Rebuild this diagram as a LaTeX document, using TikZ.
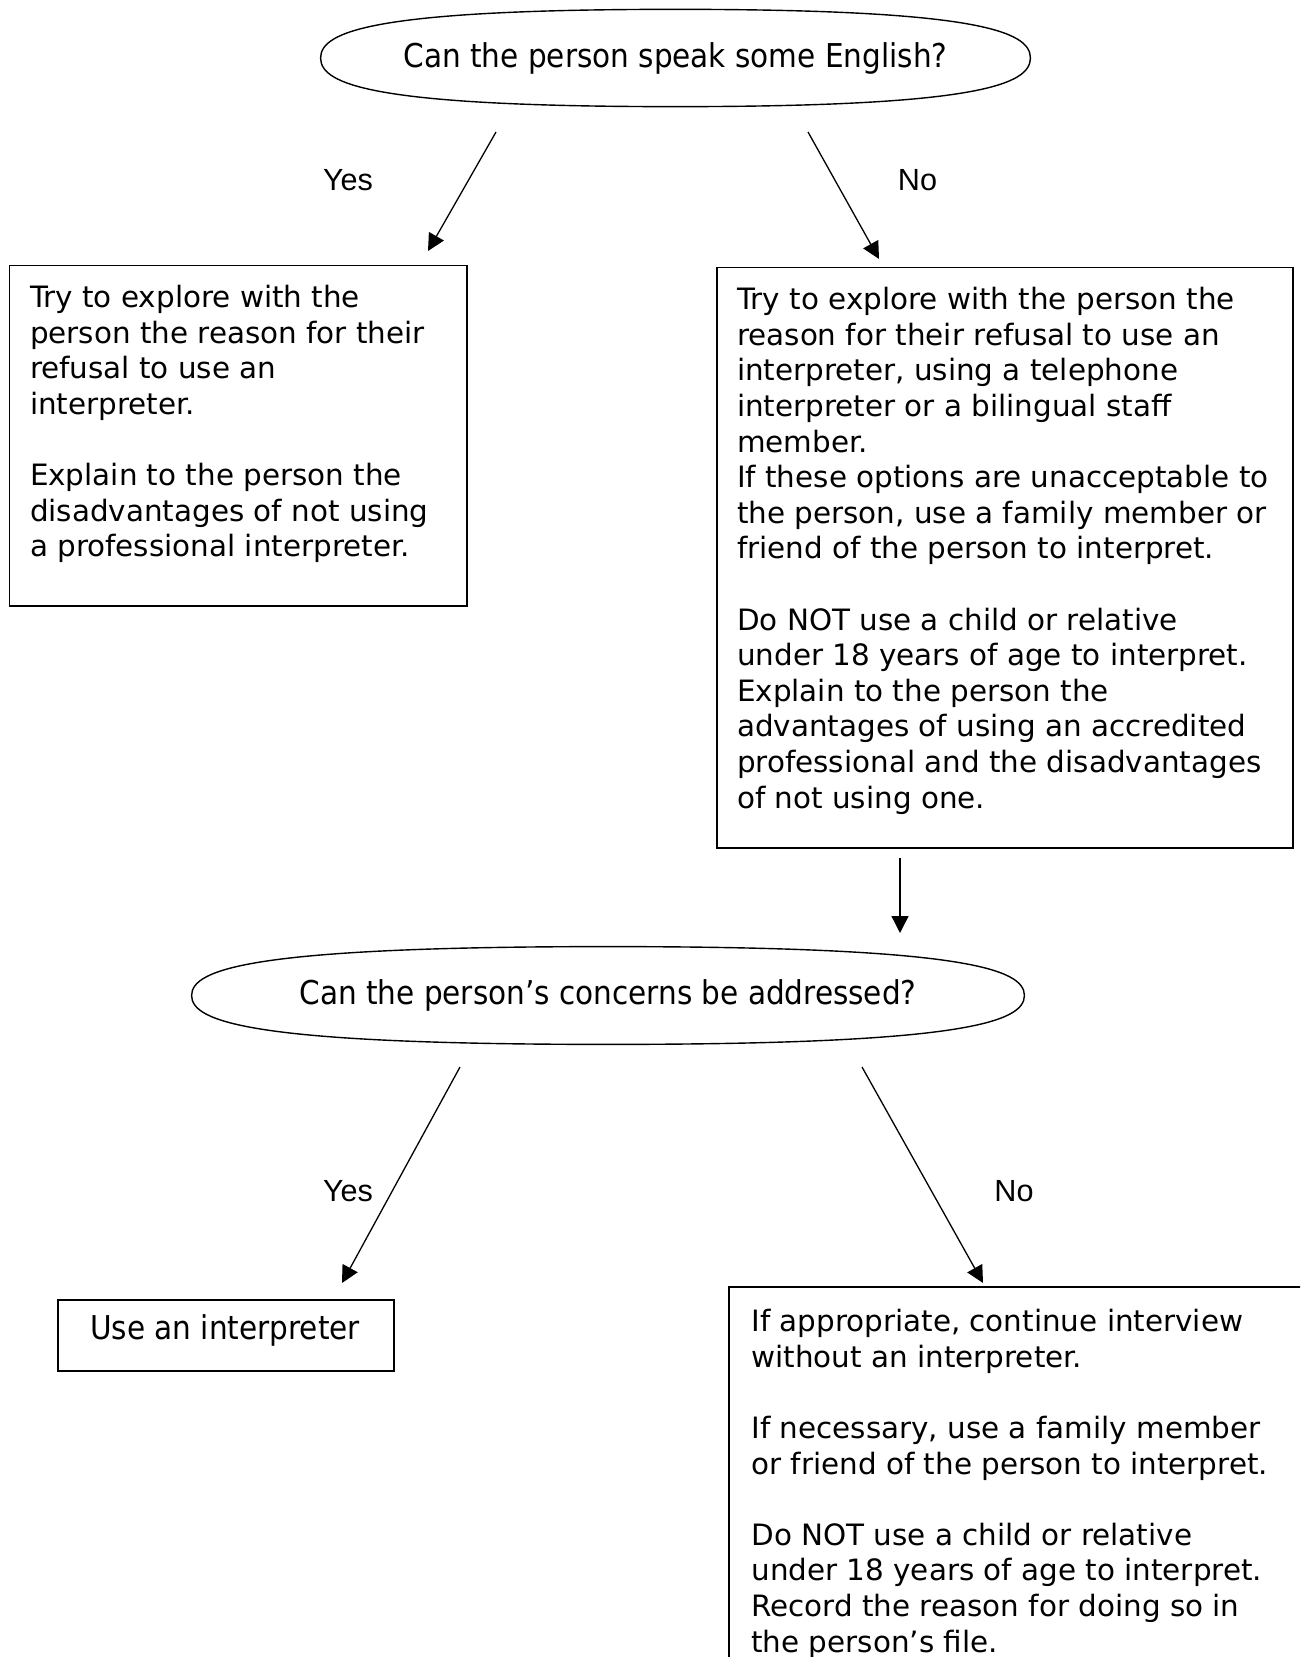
\documentclass[tikz,border=0pt]{standalone}
\usepackage{fontspec}
\setmainfont{DejaVu Sans}
\newfontfamily\narrowfont{DejaVu Sans Condensed}
\newfontfamily\labfont{Liberation Sans}
\usetikzlibrary{shapes.geometric,arrows.meta,calc}
\newcommand\fullellipse[1]{%
  \draw[line width=0.7pt]
   (#1.west) .. controls ($(#1.west)!0.55!(#1.north west)$) and ($(#1.north)!0.85!(#1.north west)$) .. (#1.north)
   .. controls ($(#1.north)!0.85!(#1.north east)$) and ($(#1.east)!0.55!(#1.north east)$) .. (#1.east)
   .. controls ($(#1.east)!0.55!(#1.south east)$) and ($(#1.south)!0.85!(#1.south east)$) .. (#1.south)
   .. controls ($(#1.south)!0.85!(#1.south west)$) and ($(#1.west)!0.55!(#1.south west)$) .. (#1.west) -- cycle;}
\begin{document}
\begin{tikzpicture}[x=0.5pt,y=-0.5pt,
  boxshape/.style={draw, line width=0.75pt, rectangle, inner sep=0pt, anchor=north west},
  body/.style={anchor=north west, inner sep=0pt, align=left, font=\fontsize{14.7pt}{17.8pt}\selectfont},
  decision/.style={rectangle, inner sep=0pt, font=\narrowfont\fontsize{16.4pt}{19pt}\selectfont},
  narrowlab/.style={font=\narrowfont\fontsize{16.4pt}{19pt}\selectfont, inner sep=0pt},
  lab/.style={font=\labfont\fontsize{15.3pt}{18pt}\selectfont, inner sep=0pt},
  flow/.style={line width=0.65pt, -{Triangle[length=8.5pt,width=8.5pt]}}
]
\useasboundingbox (0,0) rectangle (1300,1657);
\clip (0,0) rectangle (1300,1657);

% decisions
\node[decision, minimum width=354.5pt, minimum height=48.25pt] (q1) at (675.5,58) {Can the person speak some English?};
\node[decision, minimum width=416pt, minimum height=48.5pt] (q2) at (608,995.5) {Can the person’s concerns be addressed?};
\fullellipse{q1}
\fullellipse{q2}

% boxes
\node[boxshape, minimum width=228.75pt, minimum height=170pt] (b1) at (8.5,265) {};
\node[boxshape, minimum width=288pt, minimum height=290pt] (b2) at (716,267) {};
\node[boxshape, minimum width=168pt, minimum height=35.5pt] (b3) at (57,1299) {};
\node[boxshape, minimum width=306pt, minimum height=217pt] (b4) at (728,1286) {};

% box texts
\node[body] (t1) at (29.6,285) {Try to explore with the\\person the reason for their\\refusal to use an\\interpreter.\\[17.8pt]Explain to the person the\\disadvantages of not using\\a professional interpreter.};
\node[body] (t2) at (736.7,287) {Try to explore with the person the\\reason for their refusal to use an\\interpreter, using a telephone\\interpreter or a bilingual staff\\member.\\If these options are unacceptable to\\the person, use a family member or\\friend of the person to interpret.\\[17.8pt]Do NOT use a child or relative\\under 18 years of age to interpret.\\Explain to the person the\\advantages of using an accredited\\professional and the disadvantages\\of not using one.};
\node[narrowlab] (t3) at (225,1330) {Use an interpreter};
\node[body] (t4) at (751,1309) {If appropriate, continue interview\\without an interpreter.\\[17.8pt]If necessary, use a family member\\or friend of the person to interpret.\\[17.8pt]Do NOT use a child or relative\\under 18 years of age to interpret.\\Record the reason for doing so in\\the person’s file.};

% labels
\node[lab] (y1) at (348,180) {Yes};
\node[lab] (n1) at (917.5,180) {No};
\node[lab] (y2) at (348,1191) {Yes};
\node[lab] (n2) at (1014,1191) {No};

% connector end points
\coordinate (a1s) at (496,132); \coordinate (a1e) at (428,251);
\coordinate (a2s) at (808,132); \coordinate (a2e) at (879,259);
\coordinate (a3s) at (900,858); \coordinate (a3e) at (900,933);
\coordinate (a4s) at (460,1067); \coordinate (a4e) at (342,1283);
\coordinate (a5s) at (862,1067); \coordinate (a5e) at (983,1283);

\draw[flow] (a1s) -- (a1e);
\draw[flow] (a2s) -- (a2e);
\draw[flow] (a3s) -- (a3e);
\draw[flow] (a4s) -- (a4e);
\draw[flow] (a5s) -- (a5e);
\end{tikzpicture}
\end{document}
